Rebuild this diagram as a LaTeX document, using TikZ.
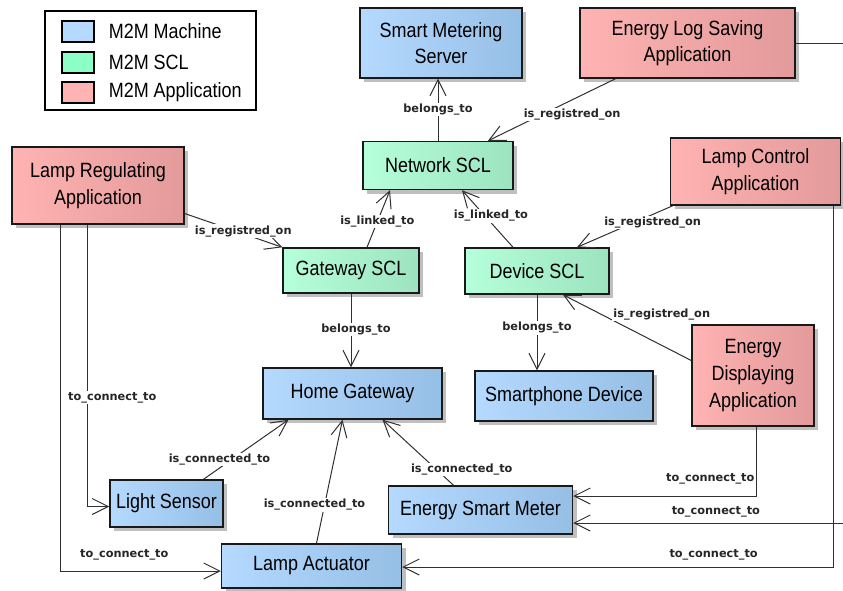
\documentclass[tikz,border=0pt]{standalone}
\usepackage{fontspec}
\setmainfont{Liberation Sans}[FakeStretch=0.87]
\newfontfamily\relfont{DejaVu Sans}
\usepackage{xcolor}
\usepackage{tikz}
\usetikzlibrary{arrows.meta,calc,shadows,positioning}
\definecolor{machineLeft}{HTML}{B5D9FF}
\definecolor{machineRight}{HTML}{96BFE6}
\definecolor{sclLeft}{HTML}{B5FFDA}
\definecolor{sclRight}{HTML}{9DE3C0}
\definecolor{sclKey}{HTML}{8CFFC6}
\definecolor{appLeft}{HTML}{FFB3B3}
\definecolor{appRight}{HTML}{E39A9A}
\definecolor{lineGray}{HTML}{303030}
\tikzset{
  baseBox/.style={
    rectangle,
    draw=black!90,
    line width=1.1pt,
    inner sep=2pt,
    align=center,
    font=\fontsize{15.5pt}{20pt}\selectfont,
    drop shadow={shadow xshift=3pt,shadow yshift=-3pt,fill=black!25,opacity=1}
  },
  machineBox/.style={baseBox, left color=machineLeft, right color=machineRight},
  sclBox/.style={baseBox, left color=sclLeft, right color=sclRight},
  appBox/.style={baseBox, left color=appLeft, right color=appRight},
  relLine/.style={
    draw=lineGray,
    line width=0.75pt,
    -{Straight Barb[length=12pt,width=12pt]}
  },
  relLabel/.style={
    font=\relfont\bfseries\fontsize{8.5pt}{9pt}\selectfont,
    fill=white,
    inner sep=0.8pt,
    text=black!85
  },
  legendSwatch/.style={
    draw=black,
    line width=0.8pt,
    minimum width=24pt,
    minimum height=15.75pt
  },
  legendText/.style={
    inner sep=0pt,
    font=\fontsize{15.5pt}{19pt}\selectfont
  }
}
\begin{document}
\begin{tikzpicture}[x=0.75pt,y=-0.75pt]
        \useasboundingbox (0,0) rectangle (843,590);

        \node[draw=black, line width=0.8pt, minimum width=158.25pt, minimum height=74.25pt] (legend) at (150.5,60.5) {};
        \node[legendSwatch, fill=machineLeft] (keyMachine) at (78,31.5) {};
        \node[legendSwatch, fill=sclKey] (keyScl) at (78,62.5) {};
        \node[legendSwatch, fill=appLeft] (keyApp) at (78,92.5) {};
        \node[legendText, right=10.5pt of keyMachine] (keyMachineText) {M2M Machine};
        \node[legendText, right=10.5pt of keyScl] (keySclText) {M2M SCL};
        \node[legendText, right=10.5pt of keyApp] (keyAppText) {M2M Application};

        \node[machineBox, minimum width=121.5pt, minimum height=52.5pt] (server) at (441,43) {Smart Metering\\Server};
        \node[appBox, minimum width=161.25pt, minimum height=52.5pt] (logApp) at (687.5,43) {Energy Log Saving\\Application};
        \node[sclBox, minimum width=112.5pt, minimum height=36pt] (netScl) at (438,165.5) {Network SCL};
        \node[appBox, minimum width=129pt, minimum height=57.75pt] (regApp) at (98,185.5) {Lamp Regulating\\Application};
        \node[appBox, minimum width=127.5pt, minimum height=50.25pt] (ctrlApp) at (755.5,171.5) {Lamp Control\\Application};
        \node[sclBox, minimum width=102pt, minimum height=33.75pt] (gwScl) at (351,270.5) {Gateway SCL};
        \node[sclBox, minimum width=108pt, minimum height=34.5pt] (devScl) at (537,271) {Device SCL};
        \node[machineBox, minimum width=134.25pt, minimum height=38.25pt] (homeGw) at (352.5,393.5) {Home Gateway};
        \node[machineBox, minimum width=133.5pt, minimum height=37.5pt] (phone) at (564,396) {Smartphone Device};
        \node[appBox, minimum width=91.5pt, minimum height=75.75pt] (dispApp) at (753,375.5) {Energy\\Displaying\\Application};
        \node[machineBox, minimum width=84.75pt, minimum height=35.25pt] (sensor) at (166.5,503.5) {Light Sensor};
        \node[machineBox, minimum width=138pt, minimum height=36pt] (meter) at (480.5,510) {Energy Smart Meter};
        \node[machineBox, minimum width=135pt, minimum height=33pt] (actuator) at (311.5,566) {Lamp Actuator};

        \draw[relLine] (netScl.north) -- node[relLabel]{belongs\_to} (netScl.north |- server.south);
        \draw[relLine] ($(logApp.south)+(-72,0)$) -- node[relLabel, pos=0.34, yshift=-11pt]{is\_registred\_on} ($(netScl.north)+(50,0)$);
        \draw[relLine] ($(gwScl.north)+(16,0)$) -- node[relLabel, pos=0.45]{is\_linked\_to} ($(netScl.south)+(-48,0)$);
        \draw[relLine] ($(devScl.north)+(-24,0)$) -- node[relLabel, pos=0.55, xshift=4.5pt]{is\_linked\_to} ($(netScl.south)+(24,0)$);
        \draw[relLine] ($(regApp.east)+(0,28)$) -- node[relLabel, pos=0.6, yshift=2pt]{is\_registred\_on} (gwScl.north west);
        \draw[relLine] ($(ctrlApp.south west)+(3,0)$) -- node[relLabel, pos=0.21, yshift=-6pt]{is\_registred\_on} ($(devScl.north)+(40,0)$);
        \draw[relLine] ($(dispApp.west)+(0,-15)$) -- node[relLabel, pos=0.23, yshift=23pt]{is\_registred\_on} ($(devScl.south)+(26,0)$);
        \draw[relLine] (gwScl.south) -- node[relLabel, pos=0.49, xshift=3.75pt]{belongs\_to} (gwScl.south |- homeGw.north);
        \draw[relLine] (devScl.south) -- node[relLabel, pos=0.44]{belongs\_to} (devScl.south |- phone.north);
        \draw[relLine] ($(sensor.north)+(37,0)$) -- node[relLabel, pos=0.33, xshift=-9pt]{is\_connected\_to} ($(homeGw.south)+(-64,0)$);
        \draw[relLine] ($(actuator.north)+(5,0)$) -- node[relLabel, pos=0.31, xshift=-7.5pt]{is\_connected\_to} ($(homeGw.south)+(-10,0)$);
        \draw[relLine] ($(meter.north)+(-27,0)$) -- node[relLabel, pos=0.24, xshift=19pt]{is\_connected\_to} ($(homeGw.south)+(30,0)$);

        \draw[relLine] ($(regApp.south)+(-11,0)$) |- node[relLabel, pos=0.307, xshift=19pt]{to\_connect\_to} ($(sensor.west)+(0,3)$);
        \draw[relLine] ($(regApp.south)+(-38,0)$) |- node[relLabel, pos=0.70, yshift=12pt]{to\_connect\_to} ($(actuator.west)+(0,5)$);
        \draw[relLine] ($(dispApp.south)+(3,0)$) |- node[relLabel, pos=0.625, yshift=13pt]{to\_connect\_to} ($(meter.east)+(0,-14)$);
        \draw[relLine] (logApp.east) -- ++(55,0) |- node[relLabel, pos=0.743, yshift=8pt]{to\_connect\_to} ($(meter.east)+(0,13)$);
        \draw[relLine] ($(ctrlApp.south)+(78,0)$) |- node[relLabel, pos=0.639, yshift=9pt]{to\_connect\_to} ($(actuator.east)+(0,1)$);

    \end{tikzpicture}
\end{document}
